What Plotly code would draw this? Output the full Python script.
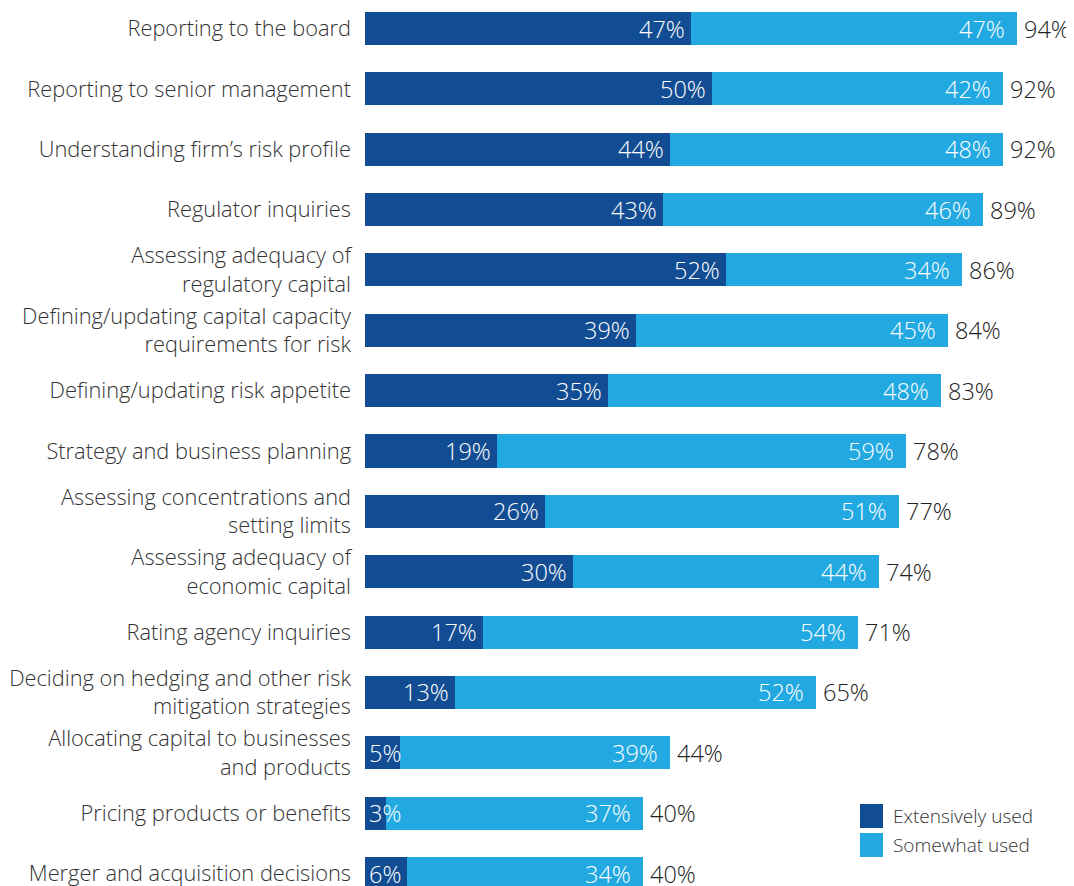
import plotly.graph_objects as go

categories = [
    "Reporting to the board",
    "Reporting to senior management",
    "Understanding firm’s risk profile",
    "Regulator inquiries",
    "Assessing adequacy of<br>regulatory capital",
    "Defining/updating capital capacity<br>requirements for risk",
    "Defining/updating risk appetite",
    "Strategy and business planning",
    "Assessing concentrations and<br>setting limits",
    "Assessing adequacy of<br>economic capital",
    "Rating agency inquiries",
    "Deciding on hedging and other risk<br>mitigation strategies",
    "Allocating capital to businesses<br>and products",
    "Pricing products or benefits",
    "Merger and acquisition decisions",
]
extensively = [47, 50, 44, 43, 52, 39, 35, 19, 26, 30, 17, 13, 5, 3, 6]
somewhat = [47, 42, 48, 46, 34, 45, 48, 59, 51, 44, 54, 52, 39, 37, 34]
totals = [94, 92, 92, 89, 86, 84, 83, 78, 77, 74, 71, 65, 44, 40, 40]
series_names = ["Extensively used", "Somewhat used"]

DARK = "#124d93"
LIGHT = "#22a9e1"
TEXT = "#333333"
FONT = "Open Sans"
LBL = 23.5

ypos = list(range(len(categories)))

fig = go.Figure()
fig.add_trace(go.Bar(
    y=ypos, x=extensively, orientation="h", name=series_names[0],
    marker=dict(color=DARK, line=dict(width=0)), width=0.547, showlegend=False,
))
fig.add_trace(go.Bar(
    y=ypos, x=somewhat, orientation="h", name=series_names[1],
    marker=dict(color=LIGHT, line=dict(width=0)), width=0.547, showlegend=False,
))

ann = []
for i in ypos:
    e = extensively[i]
    s = somewhat[i]
    if e >= 8:
        ann.append(dict(x=e, y=i, xref="x", yref="y", text=f"{e}%", showarrow=False,
                        xanchor="right", xshift=-4,
                        font=dict(family=FONT, size=LBL, color="white", weight=300)))
    else:
        ann.append(dict(x=0, y=i, xref="x", yref="y", text=f"{e}%", showarrow=False,
                        xanchor="left", xshift=2,
                        font=dict(family=FONT, size=LBL, color="white", weight=300)))
    ann.append(dict(x=e + s, y=i, xref="x", yref="y", text=f"{s}%", showarrow=False,
                    xanchor="right", xshift=-10,
                    font=dict(family=FONT, size=LBL, color="white", weight=300)))
    ann.append(dict(x=e + s, y=i, xref="x", yref="y", text=f"{totals[i]}%", showarrow=False,
                    xanchor="left", xshift=5,
                    font=dict(family=FONT, size=LBL, color="#222222", weight=300)))

# custom legend (page has an 8px body margin)
L, W, TOP, H = 365, 694, 8, 878
def px(p):
    return (p - L) / W
def py(p):
    return 1 - (p - TOP) / H

shapes = []
for k, (col, top) in enumerate([(DARK, 804), (LIGHT, 833)]):
    shapes.append(dict(type="rect", xref="paper", yref="paper",
                       x0=px(860), x1=px(883), y0=py(top), y1=py(top + 24),
                       fillcolor=col, line=dict(width=0)))
    ann.append(dict(x=px(891), y=py(top + 12), xref="paper", yref="paper",
                    text=series_names[k], showarrow=False,
                    xanchor="left", yanchor="middle",
                    font=dict(family=FONT, size=19, color=TEXT, weight=300)))

fig.update_layout(
    barmode="stack",
    width=1066, height=878,
    margin=dict(l=357, r=15, t=0, b=0, autoexpand=False),
    paper_bgcolor="white", plot_bgcolor="white",
    font=dict(family=FONT, color=TEXT),
    annotations=ann, shapes=shapes,
    xaxis=dict(range=[0, 100], visible=False, showgrid=False, zeroline=False,
               automargin=False),
    yaxis=dict(
        range=[14.207, -0.3396], autorange=False, automargin=False,
        tickvals=ypos, ticktext=categories,
        showgrid=False, zeroline=False, showline=False, ticks="",
        ticklabelstandoff=13, ticklabeloverflow="allow",
        tickfont=dict(family=FONT, size=21.8, color=TEXT, weight=300),
    ),
)

fig.write_html("out.html")
